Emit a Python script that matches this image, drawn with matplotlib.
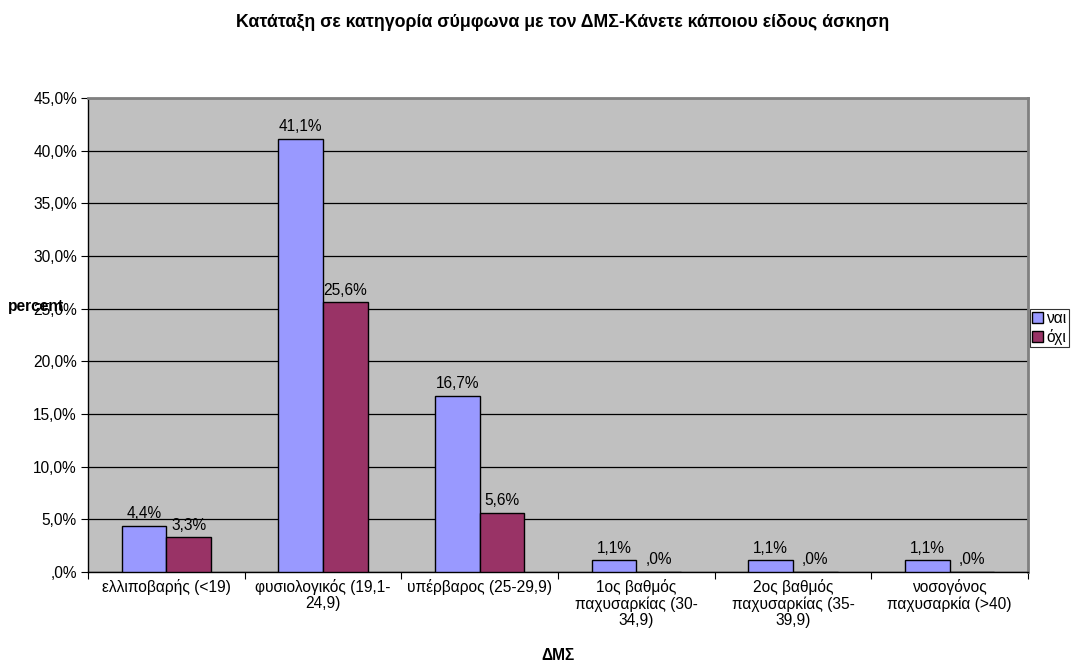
import numpy as np
import matplotlib
matplotlib.use("Agg")
import matplotlib.pyplot as plt
from matplotlib.ticker import FuncFormatter, MultipleLocator

plt.rcParams['font.family'] = ['Liberation Sans', 'DejaVu Sans']

categories = [
    "ελλιποβαρής (<19)",
    "φυσιολογικός (19,1-\n24,9)",
    "υπέρβαρος (25-29,9)",
    "1ος βαθμός\nπαχυσαρκίας (30-\n34,9)",
    "2ος βαθμός\nπαχυσαρκίας (35-\n39,9)",
    "νοσογόνος\nπαχυσαρκία (>40)",
]
nai = [4.4, 41.1, 16.7, 1.1, 1.1, 1.1]
ochi = [3.3, 25.6, 5.6, 0.0, 0.0, 0.0]
series_names = ["ναι", "όχι"]
colors = ["#9999FF", "#993366"]

FS = 11.2

def pct(v):
    s = f"{v:.1f}".replace(".", ",")
    if s.startswith("0,"):
        s = s[1:]
    return s + "%"

fig = plt.figure(figsize=(10.85, 6.66), dpi=100)
ax = fig.add_axes([88 / 1085, 1 - 572 / 666, (1028 - 88) / 1085, (572 - 98) / 666])
ax.set_facecolor("#C0C0C0")

x = np.arange(len(categories))
w = 1 / 3.5
bars = []
for i, (vals, name, c) in enumerate(zip([nai, ochi], series_names, colors)):
    b = ax.bar(x + (i - 0.5) * w, vals, width=w, color=c, edgecolor="black",
               linewidth=1.0, label=name, zorder=3)
    bars.append(b)
    for xi, v in zip(x + (i - 0.5) * w, vals):
        ax.text(xi, v + 0.45, pct(v), ha="center", va="bottom", fontsize=FS, zorder=4)

ax.set_xlim(-0.5, len(categories) - 0.5)
ax.set_ylim(0, 45)
ax.yaxis.set_major_locator(MultipleLocator(5))
ax.yaxis.set_major_formatter(FuncFormatter(lambda v, p: pct(v)))
ax.grid(axis="y", color="black", linewidth=0.9, zorder=1)
ax.set_axisbelow(True)

ax.set_xticks(np.arange(-0.5, len(categories) + 0.5, 1))
ax.set_xticklabels([])
ax.set_xticks(x, minor=True)
ax.set_xticklabels(categories, minor=True, fontsize=FS, linespacing=1.1)
ax.tick_params(axis="x", which="minor", length=0, pad=5)
ax.tick_params(axis="x", which="major", length=5, direction="out", color="black")
ax.tick_params(axis="y", length=5, direction="out", labelsize=FS, pad=3)

for s in ["top", "right"]:
    ax.spines[s].set_color("#808080")
    ax.spines[s].set_linewidth(2)
for s in ["left", "bottom"]:
    ax.spines[s].set_color("black")
    ax.spines[s].set_linewidth(1)

fig.text(563 / 1085, 1 - 22 / 666, "Κατάταξη σε κατηγορία σύμφωνα με τον ΔΜΣ-Κάνετε κάποιου είδους άσκηση",
         ha="center", va="center", fontsize=12.8, fontweight="bold")
fig.text(8 / 1085, 1 - 307 / 666, "percent", ha="left", va="center", fontsize=FS, fontweight="bold")
fig.text(558 / 1085, 1 - 655 / 666, "ΔΜΣ", ha="center", va="center", fontsize=FS, fontweight="bold")

leg = fig.legend(handles=bars, labels=series_names, loc="center left",
                 bbox_to_anchor=(1030 / 1085, 1 - 328 / 666), fontsize=FS,
                 frameon=True, fancybox=False, edgecolor="black", handlelength=0.7,
                 handleheight=0.7, handletextpad=0.2, borderpad=0.15, labelspacing=0.15,
                 borderaxespad=0)
leg.get_frame().set_linewidth(0.8)

fig.savefig("out.png", dpi=100, facecolor="white")
